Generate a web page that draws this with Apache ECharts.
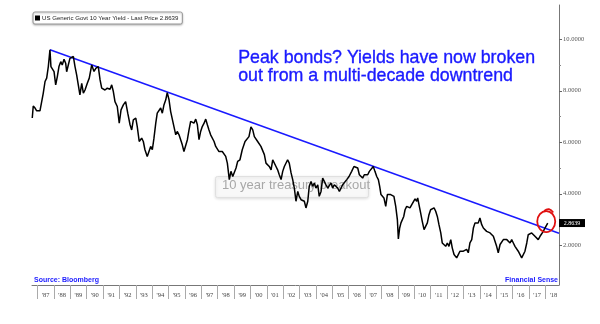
<!DOCTYPE html>
<html>
<head>
<meta charset="utf-8">
<script src="https://cdn.jsdelivr.net/npm/echarts@6/dist/echarts.min.js"></script>
<style>
  html, body { margin: 0; padding: 0; background: #fff; }
  #chart { width: 600px; height: 324px; }
</style>
</head>
<body>
<div id="chart"></div>
<script>
// US 10-year Treasury yield, monthly-ish readings (decimal year, percent)
const seriesName = 'US Generic Govt 10 Year Yield';
const lastPrice = 2.8639;

const years = [
  1986.68, 1986.74, 1986.85, 1986.95, 1987.15, 1987.26, 1987.35, 1987.46, 1987.56, 1987.66,
  1987.76, 1987.82, 1987.90, 1988.01, 1988.11, 1988.21, 1988.31, 1988.42, 1988.51, 1988.62,
  1988.72, 1988.78, 1988.88, 1988.98, 1989.09, 1989.19, 1989.29, 1989.39, 1989.49, 1989.59,
  1989.70, 1989.80, 1989.90, 1990.04, 1990.16, 1990.31, 1990.45, 1990.57, 1990.71, 1990.82,
  1990.92, 1991.12, 1991.26, 1991.43, 1991.53, 1991.63, 1991.73, 1991.87, 1991.99, 1992.10,
  1992.24, 1992.38, 1992.51, 1992.65, 1992.75, 1992.85, 1993.00, 1993.09, 1993.21, 1993.36,
  1993.46, 1993.56, 1993.70, 1993.81, 1993.91, 1994.01, 1994.11, 1994.22, 1994.31, 1994.42,
  1994.52, 1994.62, 1994.72, 1994.83, 1994.92, 1995.03, 1995.13, 1995.23, 1995.33, 1995.44,
  1995.53, 1995.64, 1995.74, 1995.84, 1995.94, 1996.05, 1996.15, 1996.25, 1996.35, 1996.45,
  1996.55, 1996.66, 1996.76, 1996.86, 1996.96, 1997.06, 1997.17, 1997.27, 1997.37, 1997.47,
  1997.57, 1997.67, 1997.78, 1997.88, 1997.98, 1998.08, 1998.18, 1998.28, 1998.39, 1998.49,
  1998.59, 1998.71, 1998.81, 1998.92, 1999.01, 1999.12, 1999.22, 1999.36, 1999.50, 1999.67,
  1999.77, 1999.91, 2000.03, 2000.14, 2000.24, 2000.34, 2000.44, 2000.54, 2000.64, 2000.75,
  2000.85, 2000.95, 2001.05, 2001.15, 2001.26, 2001.36, 2001.46, 2001.56, 2001.66, 2001.76,
  2001.87, 2001.97, 2002.07, 2002.17, 2002.27, 2002.37, 2002.48, 2002.58, 2002.68, 2002.78,
  2002.89, 2002.98, 2003.09, 2003.19, 2003.29, 2003.39, 2003.50, 2003.59, 2003.70, 2003.80,
  2003.90, 2004.00, 2004.11, 2004.20, 2004.31, 2004.41, 2004.51, 2004.61, 2004.72, 2004.81,
  2004.92, 2005.02, 2005.12, 2005.22, 2005.33, 2005.43, 2005.53, 2005.63, 2005.73, 2005.88,
  2006.02, 2006.18, 2006.32, 2006.44, 2006.55, 2006.65, 2006.75, 2006.85, 2006.95, 2007.06,
  2007.16, 2007.26, 2007.36, 2007.50, 2007.60, 2007.71, 2007.81, 2007.89, 2007.97, 2008.05,
  2008.15, 2008.26, 2008.36, 2008.46, 2008.56, 2008.66, 2008.76, 2008.87, 2008.97, 2009.03,
  2009.11, 2009.19, 2009.27, 2009.36, 2009.44, 2009.54, 2009.64, 2009.74, 2009.85, 2009.94,
  2010.05, 2010.15, 2010.21, 2010.29, 2010.39, 2010.49, 2010.60, 2010.70, 2010.80, 2010.90,
  2011.00, 2011.10, 2011.21, 2011.31, 2011.41, 2011.51, 2011.62, 2011.71, 2011.82, 2011.92,
  2012.02, 2012.12, 2012.23, 2012.32, 2012.43, 2012.49, 2012.59, 2012.69, 2012.79, 2012.90,
  2013.00, 2013.10, 2013.20, 2013.30, 2013.40, 2013.51, 2013.61, 2013.71, 2013.81, 2013.91,
  2014.01, 2014.12, 2014.22, 2014.32, 2014.42, 2014.52, 2014.63, 2014.73, 2014.83, 2014.93,
  2015.03, 2015.13, 2015.24, 2015.34, 2015.44, 2015.54, 2015.65, 2015.74, 2015.85, 2015.95,
  2016.05, 2016.15, 2016.26, 2016.35, 2016.46, 2016.56, 2016.66, 2016.76, 2016.87, 2016.96,
  2017.07, 2017.17, 2017.27, 2017.37, 2017.48, 2017.57, 2017.68, 2017.78, 2017.88, 2017.98,
  2018.09, 2018.15
];

const yields = [
  6.94, 7.41, 7.33, 7.22, 7.22, 7.20, 7.90, 8.36, 8.49, 8.94,
  9.59, 8.94, 9.00, 8.74, 8.23, 8.55, 8.94, 9.13, 9.00, 9.22,
  9.07, 8.74, 9.00, 9.26, 9.20, 9.33, 8.94, 8.62, 8.23, 7.84,
  8.29, 7.91, 8.03, 8.29, 8.49, 9.00, 8.75, 8.88, 8.94, 8.42,
  8.10, 8.03, 8.10, 8.06, 8.23, 7.97, 7.58, 7.39, 6.74, 7.26,
  7.45, 7.58, 7.13, 6.68, 6.48, 6.87, 6.94, 6.61, 6.03, 6.16,
  6.03, 5.71, 5.45, 5.52, 5.84, 5.71, 6.16, 6.74, 7.13, 7.19,
  7.33, 7.13, 7.45, 7.65, 7.93, 7.65, 7.19, 7.13, 6.61, 6.29,
  6.42, 6.29, 6.10, 5.90, 5.64, 5.64, 6.10, 6.48, 6.81, 6.87,
  6.74, 6.90, 6.68, 6.10, 6.42, 6.61, 6.74, 6.90, 6.68, 6.48,
  6.29, 6.22, 6.03, 5.84, 5.78, 5.64, 5.71, 5.64, 5.58, 5.45,
  5.19, 4.55, 4.87, 4.67, 4.74, 5.00, 5.26, 5.32, 5.71, 6.03,
  5.97, 6.22, 6.60, 6.48, 6.22, 6.29, 6.03, 5.97, 5.84, 5.78,
  5.52, 5.19, 5.13, 5.06, 4.93, 5.32, 5.26, 5.06, 4.93, 4.74,
  4.55, 4.87, 5.06, 5.00, 5.32, 5.19, 4.81, 4.55, 4.22, 3.71,
  4.09, 3.90, 3.77, 3.84, 3.71, 3.45, 3.71, 4.29, 4.48, 4.29,
  4.42, 4.22, 4.35, 3.90, 4.09, 4.61, 4.48, 4.35, 4.22, 4.29,
  4.42, 4.22, 4.35, 4.42, 4.22, 4.09, 4.22, 4.35, 4.42, 4.55,
  4.67, 4.87, 5.06, 5.13, 5.00, 4.74, 4.67, 4.61, 4.74, 4.81,
  4.74, 4.87, 4.81, 5.06, 4.87, 4.67, 4.55, 4.29, 3.97, 4.03,
  3.84, 3.51, 3.97, 4.03, 3.97, 4.03, 3.90, 3.51, 3.00, 2.25,
  2.67, 2.87, 2.80, 3.12, 3.38, 3.51, 3.45, 3.45, 3.58, 3.51,
  3.80, 3.71, 3.84, 3.58, 3.26, 2.93, 2.61, 2.54, 2.87, 3.19,
  3.38, 3.45, 3.45, 3.32, 3.12, 2.80, 2.48, 2.09, 2.03, 1.96,
  2.09, 1.96, 2.22, 1.90, 1.64, 1.57, 1.51, 1.64, 1.77, 1.71,
  1.77, 1.71, 1.84, 1.71, 2.09, 2.22, 2.67, 2.87, 2.80, 2.87,
  3.06, 2.80, 2.67, 2.61, 2.54, 2.54, 2.48, 2.48, 2.35, 2.29,
  1.96, 1.71, 2.03, 2.09, 2.22, 2.16, 2.22, 2.22, 2.09, 2.22,
  2.09, 1.96, 1.90, 1.77, 1.71, 1.51, 1.57, 1.77, 2.09, 2.41,
  2.48, 2.48, 2.41, 2.35, 2.29, 2.22, 2.35, 2.41, 2.54, 2.67,
  2.74, 2.8639
];

// Downtrend line joining the 1987 peak to the right edge
const trendYears = [1987.76, 2018.838];
const trendValues = [9.59, 2.47];

// Axis ranges and tick positions
const xRange = [1986.664, 2018.838];
const yRange = [0.458, 11.33];
const yearBoundaries = [];
for (let y = 1987; y <= 2018; y++) yearBoundaries.push(y);
const yearMids = yearBoundaries.map(y => y + 0.5);
const yMajorTicks = [2, 4, 6, 8, 10];
const yMinorTicks = [3, 5, 7, 9];

const annotationLines = ['Peak bonds? Yields have now broken', 'out from a multi-decade downtrend'];
const calloutText = '10 year treasury breakout';

const chart = echarts.init(document.getElementById('chart'), null, { renderer: 'canvas' });

const tickFont = 'Liberation Serif';
const blue = '#1a1aff';
const red = '#e01010';

chart.setOption({
  animation: false,
  backgroundColor: '#fff',
  grid: { left: 32, right: 41, top: 5, bottom: 39, containLabel: false },
  legend: {
    data: [{ name: seriesName, icon: 'rect' }],
    left: 33, top: 12,
    itemWidth: 5, itemHeight: 5, itemGap: 2,
    padding: [3, 4, 3, 2],
    backgroundColor: '#fff',
    borderColor: '#9a9a9a', borderWidth: 1, borderRadius: 2,
    shadowColor: 'rgba(0,0,0,0.25)', shadowBlur: 2, shadowOffsetY: 1,
    selectedMode: false,
    formatter: name => name + ' - Last Price ' + lastPrice.toFixed(4),
    textStyle: { fontSize: 6.1, color: '#222', fontFamily: 'Liberation Sans', padding: [0, 0, 0, -3] }
  },
  xAxis: [{
    type: 'value',
    min: xRange[0], max: xRange[1],
    axisLine: { show: true, lineStyle: { color: '#777', width: 1 } },
    axisTick: { show: true, customValues: yearBoundaries, length: 14, lineStyle: { color: '#aaa' } },
    axisLabel: {
      show: true, customValues: yearMids, margin: 7,
      fontSize: 6.5, color: '#444', fontFamily: tickFont,
      formatter: v => "'" + String(Math.floor(v)).slice(2)
    },
    splitLine: { show: false }
  }],
  yAxis: [{
    type: 'value', position: 'right',
    min: yRange[0], max: yRange[1],
    axisLine: { show: true, lineStyle: { color: '#777', width: 1 } },
    axisTick: { show: true, customValues: yMajorTicks, length: 3, lineStyle: { color: '#666' } },
    axisLabel: {
      show: true, customValues: yMajorTicks, margin: 4,
      fontSize: 6.5, color: '#555', fontFamily: tickFont,
      formatter: v => v.toFixed(4)
    },
    splitLine: { show: false }
  }, {
    type: 'value', position: 'right',
    min: yRange[0], max: yRange[1],
    axisLine: { show: false },
    axisTick: { show: true, customValues: yMinorTicks, length: 2, lineStyle: { color: '#888' } },
    axisLabel: { show: false },
    splitLine: { show: false }
  }],
  series: [{
    name: seriesName,
    type: 'line',
    data: years.map((y, i) => [y, yields[i]]),
    showSymbol: false, symbol: 'none',
    lineStyle: { color: '#000', width: 1.5 },
    itemStyle: { color: '#000' },
    zlevel: 1, z: 5
  }, {
    name: 'Trend',
    type: 'line',
    data: trendYears.map((y, i) => [y, trendValues[i]]),
    showSymbol: false, symbol: 'none',
    lineStyle: { color: blue, width: 1.5 },
    silent: true,
    zlevel: 1, z: 4
  }]
});

// Positions tied to the latest reading: last-price tag on the axis and the ring round the point
const lastPt = chart.convertToPixel({ xAxisIndex: 0, yAxisIndex: 0 }, [years[years.length - 1], yields[yields.length - 1]]);
const axisX = chart.convertToPixel({ xAxisIndex: 0 }, xRange[1]);

chart.setOption({
  graphic: {
    elements: [{
      type: 'text', left: 238, top: 49, zlevel: 2, z: 10,
      style: {
        text: annotationLines.join('\n'),
        font: '17.8px "Liberation Sans", Arial, sans-serif',
        lineHeight: 18, fill: blue,
        stroke: blue, lineWidth: 0.35
      }
    }, {
      type: 'rect', left: 215, top: 176, zlevel: 0, z: 0,
      shape: { width: 153, height: 21, r: 2 },
      style: { fill: 'rgba(249,249,249,0.9)', stroke: '#e0e0e0', lineWidth: 1,
               shadowColor: 'rgba(0,0,0,0.12)', shadowBlur: 3, shadowOffsetY: 1 }
    }, {
      type: 'text', left: 222, top: 179, zlevel: 0, z: 1,
      style: { text: calloutText, font: '13px "Liberation Sans", Arial, sans-serif', fill: '#a8a8a8' }
    }, {
      type: 'text', left: 34, top: 277, zlevel: 2, z: 10,
      style: { text: 'Source: Bloomberg', font: 'bold 7px "Liberation Sans", Arial, sans-serif', fill: blue }
    }, {
      type: 'text', right: 42, top: 277, zlevel: 2, z: 10,
      style: { text: 'Financial Sense', font: 'bold 7px "Liberation Sans", Arial, sans-serif', fill: blue }
    }, {
      type: 'rect', x: axisX, y: lastPt[1] - 4, zlevel: 2, z: 20,
      shape: { x: 0, y: 0, width: 26, height: 8 },
      style: { fill: '#000' }
    }, {
      type: 'text', x: axisX + 13, y: lastPt[1], zlevel: 2, z: 21,
      style: { text: lastPrice.toFixed(4), font: '6px "Liberation Serif", serif', fill: '#fff',
               align: 'center', verticalAlign: 'middle' }
    }, {
      type: 'ellipse', x: lastPt[0] - 1.5, y: lastPt[1] - 1.5, zlevel: 2, z: 20,
      shape: { cx: 0, cy: 0, rx: 9, ry: 10.5 },
      style: { fill: null, stroke: red, lineWidth: 1.8 }
    }, {
      type: 'bezierCurve', x: lastPt[0] - 1.5, y: lastPt[1] - 1.5, zlevel: 2, z: 20,
      shape: { x1: -2, y1: -10.5, x2: 7, y2: -9, cpx1: 3, cpy1: -15 },
      style: { fill: null, stroke: red, lineWidth: 1.8 }
    }]
  }
});
</script>
</body>
</html>
